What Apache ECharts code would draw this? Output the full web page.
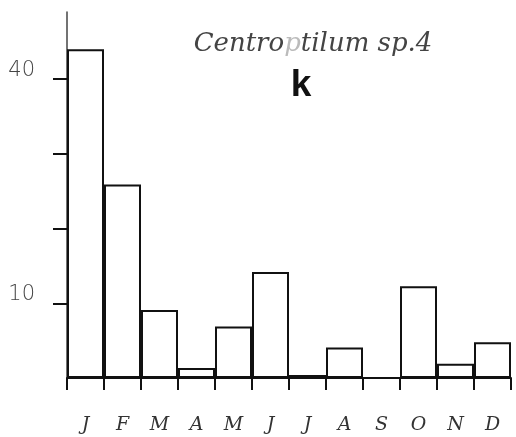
<!DOCTYPE html>
<html>
<head>
<meta charset="utf-8">
<script src="https://cdn.jsdelivr.net/npm/echarts@6/dist/echarts.min.js"></script>
<style>html,body{margin:0;padding:0;background:#fff;}#c{width:516px;height:437px;}</style>
</head>
<body>
<div id="c"></div>
<script>
var months = ['J','F','M','A','M','J','J','A','S','O','N','D'];
var counts = [44.0, 25.9, 9.1, 1.35, 6.9, 14.2, 0.4, 4.1, 0, 12.3, 1.9, 4.8];
var yTicks = [10, 20, 30, 40];
var yLabels = [10, 40];

var chart = echarts.init(document.getElementById('c'), null, {renderer: 'canvas'});
chart.setOption({
  animation: false,
  backgroundColor: '#fff',
  title: [
    {
      text: '{a|Centro}{b|p}{a|tilum sp.4}',
      left: 308, top: 26, textAlign: 'center',
      textStyle: {
        rich: {
          a: {fontFamily: 'DejaVu Serif', fontStyle: 'italic', fontSize: 26, color: '#444', fontWeight: 'lighter'},
          b: {fontFamily: 'DejaVu Serif', fontStyle: 'italic', fontSize: 26, color: '#bbb', fontWeight: 'lighter'}
        }
      }
    },
    {
      text: 'k', left: 296, top: 62, textAlign: 'center',
      textStyle: {fontFamily: 'Liberation Sans', fontWeight: 'bold', fontSize: 37, color: '#111'}
    }
  ],
  grid: {left: 67, right: 5, top: 12, bottom: 59, containLabel: false},
  xAxis: {
    type: 'category',
    data: months,
    boundaryGap: true,
    axisLine: {lineStyle: {color: '#111', width: 2}},
    axisTick: {show: true, alignWithLabel: false, length: 12, lineStyle: {color: '#111', width: 2}},
    axisLabel: {margin: 38, fontFamily: 'DejaVu Serif', fontStyle: 'italic', fontSize: 19, color: '#333'}
  },
  yAxis: {
    type: 'value',
    min: 0, max: 49,
    axisLine: {show: true, lineStyle: {color: '#444', width: 1.5}},
    axisTick: {show: true, inside: false, length: 14, customValues: yTicks, lineStyle: {color: '#111', width: 2}},
    axisLabel: {customValues: yLabels, margin: 32, fontFamily: 'DejaVu Sans', fontWeight: 'lighter', fontSize: 21, color: '#444', verticalAlign: 'bottom', lineHeight: 18},
    splitLine: {show: false}
  },
  series: [{
    type: 'bar',
    data: counts,
    barCategoryGap: '0%',
    itemStyle: {color: '#fff', borderColor: '#111', borderWidth: 2}
  }]
});
</script>
</body>
</html>
